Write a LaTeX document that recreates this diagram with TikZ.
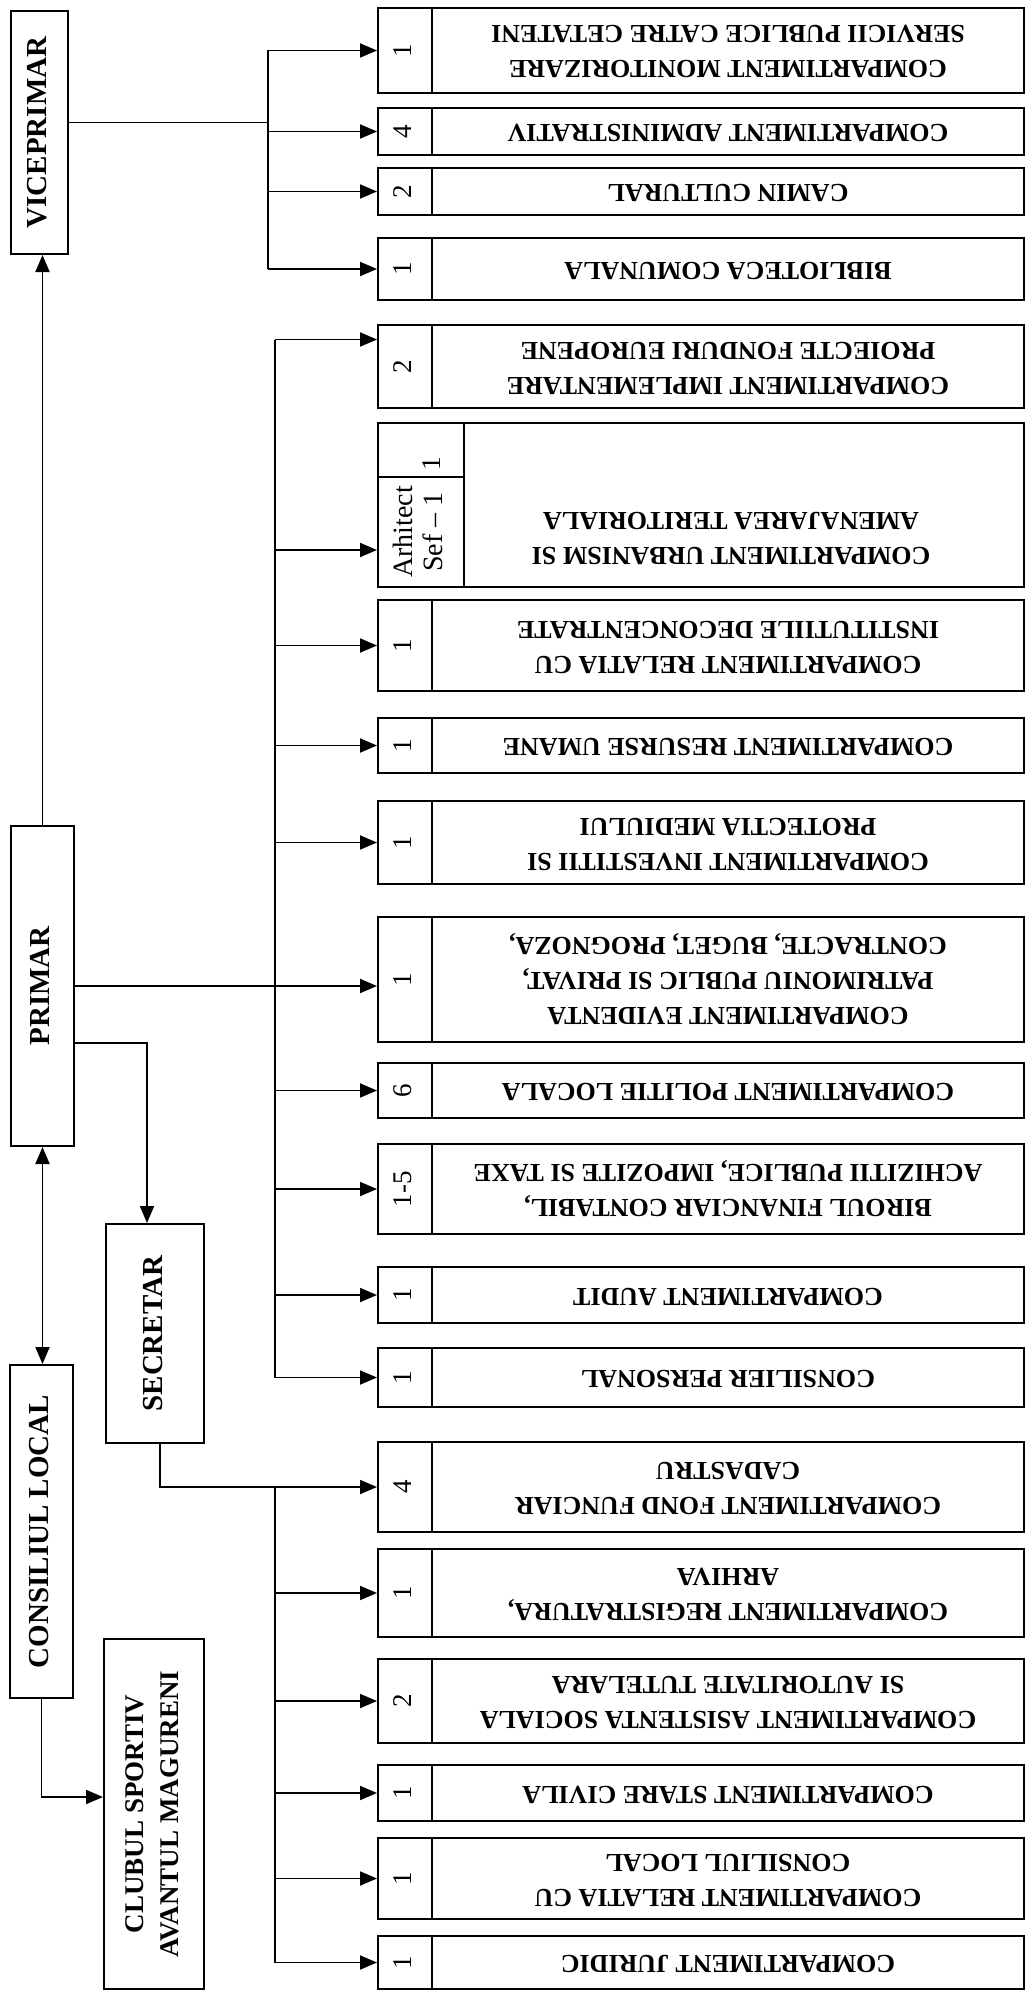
\documentclass[tikz,border=0pt]{standalone}
\usepackage{fontspec}
\setmainfont{Liberation Serif}
\usepackage{graphicx}
\usetikzlibrary{arrows.meta,positioning}
\newcommand{\flip}[1]{\rotatebox{180}{\begin{tabular}{@{}c@{}}#1\end{tabular}}}
\newcommand{\turn}[1]{\rotatebox{90}{\begin{tabular}{@{}c@{}}#1\end{tabular}}}

\begin{document}
\begin{tikzpicture}[x=1pt, y=-1pt,
    box/.style={draw, line width=2pt, inner sep=0pt, minimum width=592pt, font=\fontsize{26}{35}\selectfont\bfseries},
    numcell/.style={draw, line width=2pt, inner sep=0pt, minimum width=54pt, font=\fontsize{27}{30}\selectfont},
    head/.style={draw, line width=2pt, inner sep=0pt, font=\fontsize{29}{36}\selectfont\bfseries},
    arrow/.style={-{Triangle[length=17pt,width=14pt]}, line width=1.9pt},
    link/.style={line width=1.9pt}
]
\useasboundingbox (0,0) rectangle (1025,1991);

% Left column
\node[head, minimum width=57pt, minimum height=243pt] (vp) at (39.5,132.5) {\turn{VICEPRIMAR}};
\node[head, minimum width=63pt, minimum height=320pt] (pr) at (42.5,986) {\turn{PRIMAR}};
\node[head, minimum width=63pt, minimum height=333pt] (cl) at (41.5,1531.5) {\turn{CONSILIUL LOCAL}};
\node[head, minimum width=98pt, minimum height=219pt] (sec) at (155,1333.5) {\turn{SECRETAR}\hspace{40pt}};
\node[head, minimum width=100pt, minimum height=350pt, font=\fontsize{27}{35}\selectfont\bfseries] (club) at (154,1814) {\turn{CLUBUL SPORTIV\\AVANTUL MAGURENI}};

% Viceprimar compartments
\node[numcell, minimum height=85pt] (n1) at (405,50.5) {\turn{1}};
\node[box, minimum height=85pt] (b1) at (728,50.5) {\flip{COMPARTIMENT MONITORIZARE\\SERVICII PUBLICE CATRE CETATENI}};
\node[numcell, minimum height=47pt] (n2) at (405,131.5) {\turn{4}};
\node[box, minimum height=47pt] (b2) at (728,131.5) {\flip{COMPARTIMENT ADMINISTRATIV}};
\node[numcell, minimum height=47pt] (n3) at (405,191.5) {\turn{2}};
\node[box, minimum height=47pt] (b3) at (728,191.5) {\flip{CAMIN CULTURAL}};
\node[numcell, minimum height=62pt] (n4) at (405,269) {\turn{1}};
\node[box, minimum height=62pt] (b4) at (728,269) {\flip{BIBLIOTECA COMUNALA}};

% Primar compartments
\node[numcell, minimum height=83pt] (n5) at (405,366.5) {\turn{2}};
\node[box, minimum height=83pt] (b5) at (728,366.5) {\flip{COMPARTIMENT IMPLEMENTARE\\PROIECTE FONDURI EUROPENE}};
\node[numcell, minimum width=86pt, minimum height=54pt] (n6a) at (421,450) {};
\node[numcell, minimum width=86pt, minimum height=110pt, font=\fontsize{28}{30}\selectfont] (n6) at (421,532) {\turn{Arhitect\\Sef -- 1}};
\node[font=\fontsize{27}{30}\selectfont, inner sep=0pt] (n6c) at (434,464) {\turn{1}};
\node[box, minimum width=560pt, minimum height=164pt] (b6) at (744,505) {};
\node[font=\fontsize{26}{35}\selectfont\bfseries, inner sep=0pt] (t6) at (731,537) {\flip{COMPARTIMENT URBANISM SI\\AMENAJAREA TERITORIALA}};
\node[numcell, minimum height=91pt] (n7) at (405,645.5) {\turn{1}};
\node[box, minimum height=91pt] (b7) at (728,645.5) {\flip{COMPARTIMENT RELATIA CU\\INSTITUTIILE DECONCENTRATE}};
\node[numcell, minimum height=55pt] (n8) at (405,745.5) {\turn{1}};
\node[box, minimum height=55pt] (b8) at (728,745.5) {\flip{COMPARTIMENT RESURSE UMANE}};
\node[numcell, minimum height=83pt] (n9) at (405,842.5) {\turn{1}};
\node[box, minimum height=83pt] (b9) at (728,842.5) {\flip{COMPARTIMENT INVESTITII SI\\PROTECTIA MEDIULUI}};
\node[numcell, minimum height=125pt] (n10) at (405,979.5) {\turn{1}};
\node[box, minimum height=125pt] (b10) at (728,979.5) {\flip{COMPARTIMENT EVIDENTA\\PATRIMONIU PUBLIC SI PRIVAT,\\CONTRACTE, BUGET, PROGNOZA,}};
\node[numcell, minimum height=55pt] (n11) at (405,1090.5) {\turn{6}};
\node[box, minimum height=55pt] (b11) at (728,1090.5) {\flip{COMPARTIMENT POLITIE LOCALA}};
\node[numcell, minimum height=90pt] (n12) at (405,1189) {\turn{1-5}};
\node[box, minimum height=90pt] (b12) at (728,1189) {\flip{BIROUL FINANCIAR CONTABIL,\\ACHIZITII PUBLICE, IMPOZITE SI TAXE}};
\node[numcell, minimum height=56pt] (n13) at (405,1295) {\turn{1}};
\node[box, minimum height=56pt] (b13) at (728,1295) {\flip{COMPARTIMENT AUDIT}};
\node[numcell, minimum height=59pt] (n14) at (405,1377.5) {\turn{1}};
\node[box, minimum height=59pt] (b14) at (728,1377.5) {\flip{CONSILIER PERSONAL}};

% Secretar compartments
\node[numcell, minimum height=90pt] (n15) at (405,1487) {\turn{4}};
\node[box, minimum height=90pt] (b15) at (728,1487) {\flip{COMPARTIMENT FOND FUNCIAR\\CADASTRU}};
\node[numcell, minimum height=88pt] (n16) at (405,1593) {\turn{1}};
\node[box, minimum height=88pt] (b16) at (728,1593) {\flip{COMPARTIMENT REGISTRATURA,\\ARHIVA}};
\node[numcell, minimum height=84pt] (n17) at (405,1701) {\turn{2}};
\node[box, minimum height=84pt] (b17) at (728,1701) {\flip{COMPARTIMENT ASISTENTA SOCIALA\\SI AUTORITATE TUTELARA}};
\node[numcell, minimum height=56pt] (n18) at (405,1793) {\turn{1}};
\node[box, minimum height=56pt] (b18) at (728,1793) {\flip{COMPARTIMENT STARE CIVILA}};
\node[numcell, minimum height=81pt] (n19) at (405,1878.5) {\turn{1}};
\node[box, minimum height=81pt] (b19) at (728,1878.5) {\flip{COMPARTIMENT RELATIA CU\\CONSILIUL LOCAL}};
\node[numcell, minimum height=53pt] (n20) at (405,1962.5) {\turn{1}};
\node[box, minimum height=53pt] (b20) at (728,1962.5) {\flip{COMPARTIMENT JURIDIC}};

% Bus lines
\coordinate (vbus) at (268,0);
\coordinate (pbus) at (275,0);
\coordinate (sbus) at (275,0);
\coordinate (vj) at ([yshift=10pt]vp.east);
\coordinate (a5) at ([yshift=27pt]n5.west);
\coordinate (a6) at ([yshift=-18pt]n6.west);

% Arrows
\draw[link] (vj) -- (vj -| vbus);
\draw[link] (vbus |- n1.west) -- (vbus |- n4.west);
\foreach \i in {1,...,4} \draw[arrow] (vbus |- n\i.west) -- (n\i.west);

\draw[link] (pbus |- a5) -- (pbus |- n14.west);
\draw[arrow] (pbus |- a5) -- (a5);
\draw[arrow] (pbus |- a6) -- (a6);
\foreach \i in {7,8,9,11,12,13,14} \draw[arrow] (pbus |- n\i.west) -- (n\i.west);
\draw[arrow] (pr.east) -- (pr.east -| n10.west);

\draw[arrow] ([yshift=-57pt]pr.east) -| ([xshift=-8pt]sec.north);
\draw[arrow] ([xshift=5pt]sec.south) |- (n15.west);
\draw[link] (sbus |- n15.west) -- (sbus |- n20.west);
\foreach \i in {16,...,20} \draw[arrow] (sbus |- n\i.west) -- (n\i.west);

\draw[arrow] (pr.north) -- (pr.north |- vp.south);
\draw[{Triangle[length=17pt,width=14pt]}-{Triangle[length=17pt,width=14pt]}, line width=1.9pt] (pr.south) -- (pr.south |- cl.north);
\draw[arrow] (cl.south) |- ([yshift=17pt]club.west);
\end{tikzpicture}
\end{document}
